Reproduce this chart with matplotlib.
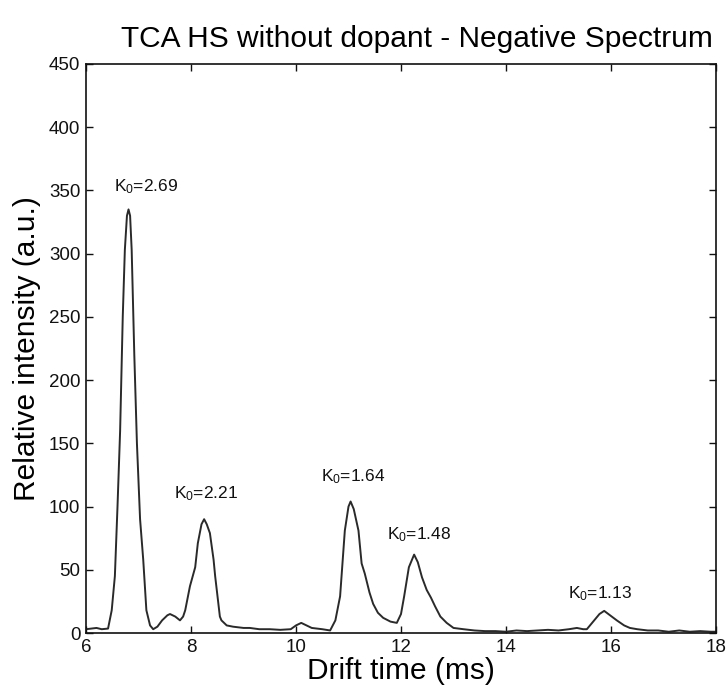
import matplotlib
matplotlib.use("Agg")
import matplotlib.pyplot as plt

drift_time = [6.00, 6.10, 6.20, 6.30, 6.42, 6.49, 6.55, 6.60, 6.65, 6.70, 6.74, 6.78, 6.81, 6.84,
              6.87, 6.92, 6.97, 7.03, 7.09, 7.15, 7.22, 7.28, 7.36, 7.45, 7.55, 7.60, 7.70, 7.79,
              7.85, 7.89, 7.98, 8.08, 8.13, 8.20, 8.25, 8.30, 8.36, 8.43, 8.46, 8.55, 8.58, 8.68,
              8.80, 9.00, 9.12, 9.30, 9.50, 9.70, 9.90, 10.00, 10.10, 10.20, 10.30, 10.50, 10.65,
              10.75, 10.84, 10.93, 11.00, 11.04, 11.10, 11.19, 11.25, 11.31, 11.40, 11.47, 11.56,
              11.66, 11.80, 11.92, 12.00, 12.06, 12.15, 12.25, 12.32, 12.40, 12.49, 12.57, 12.65,
              12.75, 12.87, 13.00, 13.19, 13.40, 13.60, 13.80, 14.00, 14.20, 14.40, 14.60, 14.80,
              15.00, 15.20, 15.35, 15.47, 15.54, 15.66, 15.78, 15.87, 15.95, 16.11, 16.25, 16.36,
              16.50, 16.70, 16.90, 17.10, 17.30, 17.50, 17.70, 17.90, 18.00]
intensity = [3, 3.5, 4, 3, 3.5, 18, 45, 100, 160, 250, 303, 330, 335, 330,
             303, 220, 150, 90, 58, 18, 6, 3, 5, 10, 14, 15, 13, 10,
             13, 18, 37, 52, 71, 86, 90, 86, 79, 58, 45, 13, 10, 6,
             5, 4, 4, 3, 3, 2.5, 3, 6, 8, 6, 4, 3, 2,
             10, 29, 81, 100, 104, 98, 81, 55, 47, 32, 23, 16,
             12, 9, 8, 15, 29, 52, 62, 56, 44, 34, 28, 21,
             13, 8, 4, 3, 2, 1.5, 1.5, 1, 2, 1.5, 2, 2.5,
             2, 3, 4, 3, 3, 9, 15, 17.5, 15, 10, 6, 4,
             3, 2, 2, 1, 2, 1, 1.5, 1, 1]

peak_labels = ["2.69", "2.21", "1.64", "1.48", "1.13"]
label_x = [7.15, 8.28, 11.08, 12.34, 15.80]
label_y = [353, 110.5, 123.7, 77.5, 31.4]

x_ticks = [6, 8, 10, 12, 14, 16, 18]
y_ticks = [0, 50, 100, 150, 200, 250, 300, 350, 400, 450]

plt.rcParams['font.family'] = ['Liberation Sans', 'DejaVu Sans']
plt.rcParams['mathtext.fontset'] = 'custom'
plt.rcParams['mathtext.rm'] = 'Liberation Sans'
plt.rcParams['mathtext.it'] = 'Liberation Sans'

fig = plt.figure(figsize=(7.28, 6.97), dpi=100)
ax = fig.add_axes([86/728, 1-633/697, (716-86)/728, (633-64)/697])
ax.plot(drift_time, intensity, color='#2a2a2a', lw=1.4)
ax.set_xlim(6, 18)
ax.set_ylim(0, 450)
ax.set_xticks(x_ticks)
ax.set_yticks(y_ticks)
ax.tick_params(direction='in', top=True, right=True, length=5, width=1,
               labelsize=13.5, colors='#111111', pad=4)
for s in ax.spines.values():
    s.set_linewidth(1.2)
    s.set_color('#111111')

for lab, lx, ly in zip(peak_labels, label_x, label_y):
    ax.text(lx, ly, r"K$_0$=" + lab, ha='center', va='center', fontsize=12.5, color='#111111')

ax.set_xlabel("Drift time (ms)", fontsize=21.5, labelpad=1)
ax.set_ylabel("Relative intensity (a.u.)", fontsize=21.5, labelpad=6)
ax.set_title("TCA HS without dopant - Negative Spectrum", fontsize=21.5, pad=12, x=0.525)

fig.savefig("out.png", dpi=100)
